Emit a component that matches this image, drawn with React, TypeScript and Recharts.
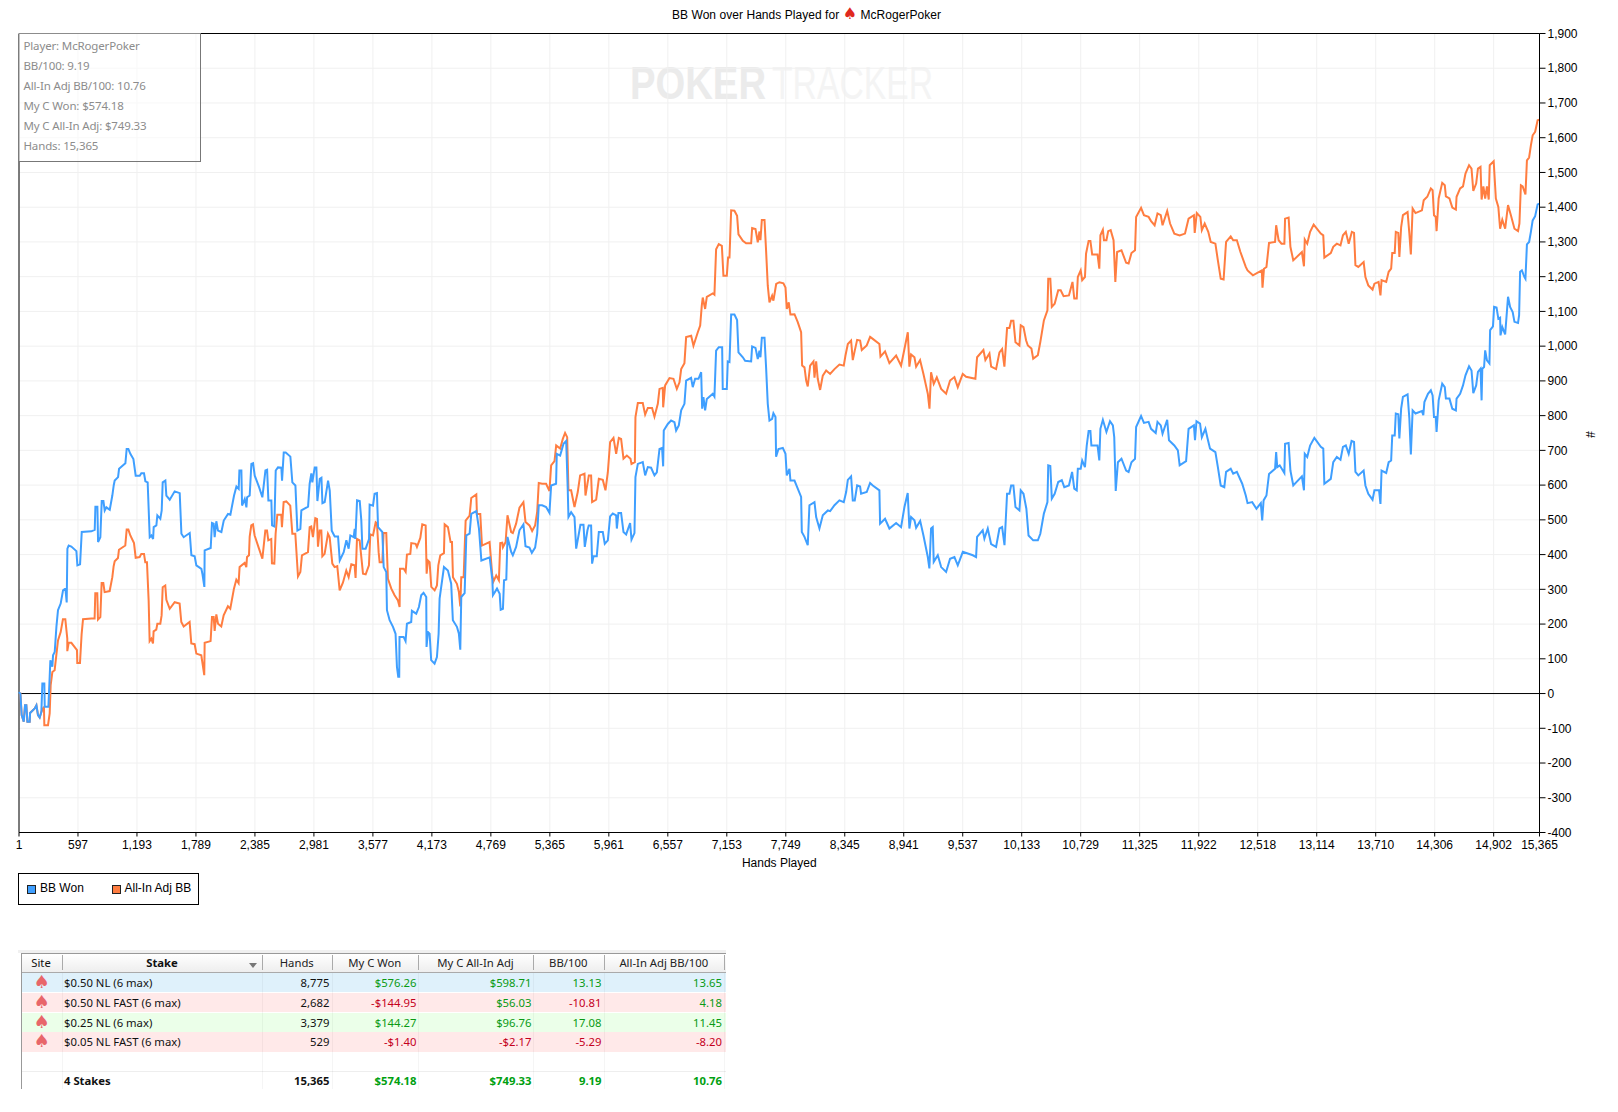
import React from 'react';
import { ComposedChart, Line, XAxis, YAxis, CartesianGrid, ReferenceLine, Legend } from 'recharts';

const xTicks = [1, 597, 1193, 1789, 2385, 2981, 3577, 4173, 4769, 5365, 5961, 6557, 7153, 7749, 8345, 8941, 9537, 10133, 10729, 11325, 11922, 12518, 13114, 13710, 14306, 14902, 15365];
const yTicks = [-400, -300, -200, -100, 0, 100, 200, 300, 400, 500, 600, 700, 800, 900, 1000, 1100, 1200, 1300, 1400, 1500, 1600, 1700, 1800, 1900];

const blueTrace: number[][] = [
[1,0],[5,2],[15,0],[28,-62],[49,-81],[62,-34],[75,-34],[86,-81],[109,-81],[113,-56],[160,-43],[177,-34],[193,-62],[210,-69],[227,-53],[237,29],[257,29],[261,-38],[298,-38],[311,48],[318,96],[338,77],[345,110],[362,120],[379,192],[395,240],[422,259],[446,297],[470,302],[483,262],[490,417],[503,426],[530,423],[581,410],[591,369],[618,372],[635,465],[732,467],[766,471],[773,538],[793,538],[800,436],[823,450],[837,554],[854,554],[867,527],[884,536],[918,529],[944,570],[958,599],[968,613],[1002,623],[1012,647],[1076,663],[1089,704],[1106,704],[1126,690],[1157,675],[1180,627],[1221,627],[1237,634],[1264,634],[1278,611],[1301,608],[1322,450],[1339,455],[1356,445],[1362,479],[1389,484],[1399,513],[1429,503],[1443,527],[1453,608],[1480,613],[1490,570],[1524,558],[1574,582],[1625,577],[1642,460],[1665,450],[1726,462],[1743,398],[1776,395],[1793,369],[1844,359],[1854,345],[1874,307],[1877,412],[1938,419],[1951,491],[1968,489],[1978,450],[1995,496],[2012,469],[2046,465],[2070,498],[2113,517],[2137,515],[2174,570],[2198,596],[2221,589],[2228,642],[2248,642],[2255,541],[2282,560],[2299,536],[2306,565],[2332,570],[2349,661],[2366,663],[2383,627],[2427,594],[2460,565],[2491,642],[2508,644],[2521,556],[2551,556],[2558,484],[2581,481],[2595,642],[2618,651],[2652,650],[2659,613],[2676,694],[2696,694],[2743,682],[2763,608],[2794,599],[2814,469],[2844,474],[2854,527],[2922,538],[2938,604],[2955,634],[2965,608],[2989,651],[3006,651],[3016,554],[3040,618],[3057,621],[3067,548],[3090,551],[3124,613],[3141,584],[3161,469],[3191,452],[3225,452],[3242,383],[3282,407],[3309,441],[3332,417],[3349,455],[3383,450],[3393,474],[3400,445],[3417,556],[3444,554],[3460,498],[3471,417],[3504,417],[3538,445],[3544,544],[3578,541],[3594,575],[3618,577],[3629,479],[3672,465],[3686,364],[3712,350],[3719,240],[3746,211],[3780,192],[3806,172],[3820,77],[3833,48],[3843,48],[3846,163],[3887,163],[3907,151],[3921,201],[3964,206],[3971,238],[4015,230],[4042,249],[4065,283],[4089,290],[4116,278],[4119,134],[4133,177],[4150,172],[4166,96],[4200,86],[4224,105],[4241,172],[4251,273],[4295,364],[4335,354],[4368,316],[4385,211],[4426,192],[4446,172],[4460,126],[4470,278],[4504,289],[4521,455],[4554,460],[4571,517],[4622,525],[4649,474],[4673,383],[4757,392],[4784,327],[4790,283],[4831,302],[4858,287],[4868,241],[4891,244],[4902,326],[4925,328],
[4937,451],[4974,408],[4991,398],[5024,422],[5058,470],[5098,487],[5119,424],[5159,420],[5183,405],[5216,420],[5237,460],[5253,542],[5287,542],[5327,537],[5361,520],[5378,599],[5428,604],[5435,690],[5469,685],[5503,719],[5530,727],[5546,585],[5553,508],[5580,522],[5614,508],[5631,417],[5658,460],[5674,486],[5705,486],[5718,422],[5745,470],[5758,484],[5782,484],[5792,374],[5806,395],[5839,395],[5860,465],[5900,465],[5920,431],[5951,441],[5974,510],[6001,518],[6035,513],[6042,475],[6058,520],[6085,520],[6109,465],[6136,458],[6176,491],[6190,443],[6220,462],[6230,623],[6254,661],[6304,666],[6328,628],[6355,652],[6388,650],[6422,628],[6446,637],[6473,704],[6499,707],[6510,654],[6516,757],[6557,776],[6590,786],[6624,781],[6641,757],[6668,772],[6692,815],[6725,834],[6742,901],[6792,909],[6809,882],[6833,906],[6867,906],[6894,925],[6904,820],[6917,853],[6934,815],[6951,848],[7011,863],[7028,855],[7045,987],[7072,997],[7106,997],[7112,877],[7153,877],[7163,956],[7180,954],[7197,1091],[7230,1091],[7257,1075],[7271,982],[7315,968],[7338,958],[7399,956],[7409,999],[7443,995],[7466,963],[7483,987],[7493,968],[7507,1024],[7534,1024],[7550,939],[7567,834],[7584,786],[7611,791],[7624,807],[7645,796],[7651,682],[7675,704],[7719,707],[7746,690],[7759,628],[7786,647],[7796,613],[7837,613],[7870,590],[7904,566],[7911,465],[7938,451],[7971,427],[7988,542],[8039,551],[8056,508],[8089,475],[8123,513],[8174,527],[8197,525],[8241,542],[8291,556],[8335,551],[8359,580],[8376,615],[8409,625],[8426,556],[8446,556],[8470,599],[8500,596],[8510,575],[8567,580],[8601,606],[8628,599],[8695,585],[8702,489],[8752,503],[8796,475],[8864,491],[8914,479],[8948,537],[8981,577],[8998,475],[9015,508],[9049,499],[9066,477],[9107,497],[9140,455],[9184,393],[9200,360],[9217,475],[9234,479],[9244,379],[9285,398],[9319,364],[9369,350],[9409,388],[9453,393],[9487,369],[9538,408],[9639,398],[9672,393],[9682,451],[9739,470],[9756,446],[9790,475],[9824,430],[9874,422],[9908,475],[9935,479],[9959,427],[9985,575],[10009,575],[10026,599],[10049,599],[10070,537],[10110,527],
[10123,585],[10151,575],[10180,532],[10202,455],[10249,441],[10296,441],[10321,460],[10357,518],[10393,551],[10401,657],[10422,655],[10437,561],[10466,575],[10502,609],[10538,614],[10563,594],[10610,599],[10642,638],[10664,590],[10689,585],[10700,647],[10729,647],[10744,671],[10772,652],[10790,714],[10809,756],[10827,756],[10837,714],[10899,714],[10917,671],[10928,762],[10953,788],[10989,753],[11025,784],[11054,772],[11068,738],[11083,583],[11105,666],[11141,676],[11188,642],[11213,638],[11242,666],[11278,676],[11289,767],[11339,799],[11368,779],[11415,782],[11440,762],[11487,750],[11505,782],[11538,772],[11556,748],[11603,788],[11621,729],[11675,714],[11711,700],[11729,657],[11794,669],[11819,762],[11873,772],[11884,729],[11899,784],[11935,777],[11953,738],[11989,762],[12011,734],[12036,705],[12090,695],[12115,652],[12144,599],[12180,594],[12198,638],[12245,647],[12270,633],[12307,638],[12361,604],[12397,570],[12415,548],[12462,551],[12505,532],[12549,548],[12563,498],[12577,556],[12606,570],[12632,632],[12693,647],[12704,695],[12715,652],[12740,657],[12787,635],[12794,719],[12830,721],[12848,642],[12877,599],[12964,625],[12985,585],[12993,690],[13018,681],[13047,714],[13090,736],[13155,710],[13180,705],[13191,604],[13256,618],[13281,666],[13317,681],[13354,673],[13379,710],[13408,714],[13437,690],[13466,727],[13491,724],[13505,638],[13534,628],[13588,642],[13606,599],[13635,575],[13678,558],[13697,585],[13744,585],[13758,546],[13769,642],[13816,635],[13841,666],[13866,671],[13877,743],[13902,743],[13913,806],[13938,804],[13949,734],[13967,820],[13985,854],[14032,861],[14050,791],[14065,688],[14083,815],[14112,806],[14177,813],[14191,801],[14202,839],[14238,863],[14267,873],[14285,858],[14299,796],[14317,796],[14325,753],[14346,844],[14382,892],[14408,882],[14419,849],[14455,849],[14484,820],[14520,815],[14527,849],[14563,863],[14592,887],[14617,916],[14653,942],[14678,930],[14696,865],[14725,887],[14743,926],[14769,935],[14780,844],[14787,935],[14805,940],[14816,988],[14834,959],[14859,950],[14866,1046],[14895,1057],[14906,1113],[14931,1111],[14949,1079],[14967,1082],[14971,1031],[14989,1055],[15018,1034],[15047,1142],[15068,1113],[15094,1098],[15112,1070],[15148,1067],[15159,1089],[15169,1214],[15187,1218],[15213,1199],[15223,1194],[15238,1293],[15260,1300],[15278,1329],[15296,1362],[15321,1374],[15346,1408],[15365,1410]
];

const orangeTrace: number[][] = [
[1,0],[15,0],[28,-62],[49,-81],[62,-34],[75,-34],[86,-81],[109,-81],[113,-56],[160,-43],[177,-34],[193,-62],[210,-69],[227,-53],[253,-38],[257,-91],[294,-91],[311,-57],[321,24],[338,62],[361,67],[378,110],[395,153],[422,177],[445,214],[469,214],[489,158],[489,122],[503,146],[530,146],[587,125],[590,88],[617,88],[634,172],[648,214],[732,216],[765,216],[772,289],[792,289],[799,213],[823,220],[836,318],[853,318],[866,292],[917,295],[944,335],[957,366],[968,381],[1001,390],[1011,414],[1075,426],[1089,472],[1106,472],[1126,455],[1163,433],[1180,391],[1220,393],[1237,402],[1264,402],[1277,378],[1294,378],[1311,268],[1321,151],[1338,158],[1355,144],[1361,179],[1388,184],[1399,201],[1429,201],[1442,225],[1453,306],[1479,311],[1490,270],[1524,244],[1574,263],[1624,259],[1641,206],[1665,193],[1725,206],[1742,144],[1776,142],[1793,115],[1843,110],[1853,91],[1873,53],[1877,146],[1937,151],[1951,220],[1968,220],[1978,180],[1995,228],[2012,201],[2045,193],[2069,225],[2112,251],[2136,244],[2173,302],[2197,328],[2220,318],[2230,364],[2281,376],[2298,364],[2305,393],[2325,398],[2332,452],[2348,484],[2365,487],[2382,455],[2426,417],[2460,388],[2490,469],[2507,469],[2520,441],[2550,445],[2557,375],[2581,374],[2594,460],[2611,515],[2651,515],[2658,479],[2675,551],[2702,553],[2742,541],[2763,460],[2793,460],[2820,337],[2844,350],[2860,398],[2921,407],[2938,479],[2954,481],[2971,450],[2995,505],[3012,503],[3022,423],[3039,469],[3056,469],[3066,395],[3089,402],[3123,460],[3140,450],[3167,374],[3190,364],[3217,367],[3241,297],[3274,319],[3308,354],[3332,335],[3359,372],[3392,369],[3402,333],[3416,445],[3443,441],[3477,345],[3504,343],[3537,369],[3551,458],[3578,455],[3605,493],[3618,490],[3635,407],[3645,378],[3672,378],[3685,462],[3712,462],[3729,330],[3763,302],[3796,283],[3830,268],[3847,249],[3851,359],[3888,359],[3908,350],[3921,400],[3955,402],[3965,433],[4009,431],[4022,422],[4056,448],[4076,487],[4110,484],[4120,345],[4133,383],[4150,378],[4167,307],[4201,297],[4224,311],[4238,369],[4258,398],[4295,404],[4302,487],[4335,479],[4362,436],[4376,436],[4386,335],[4426,316],[4446,292],[4460,251],[4470,335],[4494,335],[4514,498],[4554,512],[4571,563],[4622,573],[4628,517],[4662,517],[4679,426],[4756,436],[4783,340],[4796,323],[4823,340],[4850,326],[4864,433],[4884,434],[4891,421],[4918,436],
[4937,513],[4974,465],[4991,462],[5024,489],[5058,535],[5098,551],[5119,494],[5159,484],[5186,468],[5216,484],[5237,523],[5253,606],[5287,604],[5327,604],[5361,583],[5378,657],[5412,669],[5429,714],[5469,705],[5496,733],[5519,750],[5540,738],[5553,585],[5580,585],[5614,537],[5647,580],[5671,628],[5715,633],[5725,570],[5759,628],[5782,628],[5792,551],[5833,558],[5860,618],[5900,615],[5927,585],[5951,637],[5974,724],[6008,736],[6035,690],[6062,736],[6085,733],[6109,676],[6143,685],[6180,676],[6190,661],[6224,666],[6230,796],[6254,836],[6304,836],[6328,803],[6355,822],[6398,822],[6422,797],[6456,834],[6473,877],[6506,880],[6510,824],[6530,887],[6574,908],[6614,906],[6648,877],[6675,896],[6692,934],[6725,951],[6742,1026],[6793,1030],[6816,1001],[6860,1040],[6884,1059],[6900,1116],[6910,1140],[6934,1107],[6951,1142],[7011,1152],[7028,1148],[7045,1279],[7072,1294],[7103,1289],[7119,1203],[7153,1203],[7166,1255],[7180,1255],[7197,1391],[7230,1390],[7257,1375],[7271,1322],[7315,1303],[7348,1296],[7399,1296],[7409,1340],[7443,1337],[7466,1299],[7483,1330],[7493,1305],[7507,1363],[7534,1363],[7550,1275],[7567,1174],[7584,1126],[7611,1145],[7624,1131],[7652,1179],[7685,1184],[7725,1181],[7746,1169],[7759,1107],[7779,1126],[7796,1091],[7837,1092],[7870,1069],[7904,1040],[7914,944],[7938,939],[7955,901],[7971,884],[7995,944],[8029,956],[8039,909],[8056,956],[8072,906],[8096,874],[8123,915],[8157,930],[8197,920],[8241,934],[8291,947],[8335,944],[8352,973],[8376,1006],[8409,1016],[8426,960],[8446,987],[8470,1018],[8500,1016],[8517,989],[8567,1002],[8601,1027],[8628,1021],[8695,1006],[8706,970],[8752,985],[8796,951],[8864,973],[8914,944],[8948,992],[8982,1040],[8998,941],[9015,976],[9049,968],[9066,941],[9106,960],[9140,920],[9184,863],[9201,820],[9217,925],[9244,891],[9275,910],[9319,877],[9369,863],[9409,901],[9453,911],[9487,882],[9537,920],[9571,912],[9665,906],[9682,968],[9746,989],[9766,960],[9807,979],[9824,941],[9874,934],[9908,982],[9935,992],[9958,941],[9985,1052],[10009,1052],[10026,1073],[10049,1073],[10070,1011],[10110,1002],
[10123,1060],[10151,1055],[10177,1017],[10195,1002],[10231,993],[10249,964],[10296,974],[10321,1012],[10357,1074],[10393,1103],[10401,1194],[10422,1194],[10437,1113],[10466,1122],[10502,1161],[10527,1161],[10556,1144],[10610,1146],[10646,1185],[10664,1137],[10689,1137],[10700,1199],[10729,1218],[10744,1190],[10772,1199],[10783,1266],[10809,1303],[10827,1303],[10845,1264],[10899,1264],[10917,1223],[10928,1319],[10953,1335],[10964,1305],[10989,1305],[11007,1331],[11032,1334],[11061,1305],[11079,1185],[11097,1271],[11141,1276],[11188,1240],[11213,1238],[11242,1268],[11278,1276],[11289,1372],[11339,1398],[11368,1377],[11415,1372],[11440,1360],[11476,1348],[11505,1382],[11538,1377],[11556,1348],[11603,1389],[11632,1353],[11675,1324],[11729,1319],[11783,1324],[11819,1367],[11873,1377],[11881,1326],[11902,1383],[11938,1372],[11953,1334],[11982,1353],[12018,1329],[12043,1300],[12090,1295],[12115,1247],[12144,1194],[12173,1192],[12198,1300],[12245,1316],[12270,1305],[12307,1305],[12343,1271],[12397,1228],[12415,1218],[12469,1204],[12559,1218],[12566,1168],[12581,1223],[12606,1228],[12632,1297],[12693,1300],[12704,1348],[12729,1305],[12758,1295],[12787,1295],[12794,1367],[12830,1370],[12848,1286],[12877,1247],[12964,1271],[12985,1230],[12993,1307],[13018,1295],[13047,1329],[13083,1350],[13155,1324],[13180,1319],[13191,1255],[13256,1268],[13281,1286],[13317,1295],[13354,1290],[13379,1319],[13408,1329],[13437,1295],[13469,1329],[13491,1326],[13505,1233],[13534,1228],[13588,1242],[13606,1199],[13635,1175],[13678,1163],[13697,1180],[13739,1185],[13758,1146],[13769,1190],[13816,1185],[13841,1214],[13866,1223],[13877,1268],[13902,1268],[13913,1329],[13938,1326],[13949,1257],[13967,1343],[13985,1377],[14032,1386],[14050,1324],[14065,1264],[14083,1396],[14112,1383],[14177,1391],[14195,1420],[14231,1430],[14267,1454],[14285,1449],[14299,1377],[14317,1372],[14325,1331],[14346,1425],[14382,1470],[14408,1463],[14419,1431],[14455,1425],[14484,1399],[14520,1393],[14527,1430],[14563,1454],[14592,1460],[14617,1497],[14653,1521],[14678,1511],[14696,1447],[14725,1468],[14743,1511],[14769,1516],[14780,1422],[14798,1460],[14816,1425],[14834,1460],[14852,1422],[14862,1521],[14902,1532],[14924,1425],[14949,1401],[14967,1338],[14989,1364],[15018,1338],[15047,1406],[15076,1377],[15112,1338],[15148,1331],[15162,1353],[15177,1463],[15195,1460],[15223,1437],[15238,1535],[15260,1543],[15278,1578],[15296,1607],[15321,1617],[15346,1650],[15365,1652]
];

const statLines = ['Player: McRogerPoker', 'BB/100: 9.19', 'All-In Adj BB/100: 10.76', 'My C Won: $574.18', 'My C All-In Adj: $749.33', 'Hands: 15,365'];
const tableHead = ['Hands', 'My C Won', 'My C All-In Adj', 'BB/100', 'All-In Adj BB/100'];
const stakes = ['$0.50 NL (6 max)', '$0.50 NL FAST (6 max)', '$0.25 NL (6 max)', '$0.05 NL FAST (6 max)'];
const handsCol = ['8,775', '2,682', '3,379', '529'];
const wonCol = ['$576.26', '-$144.95', '$144.27', '-$1.40'];
const adjCol = ['$598.71', '$56.03', '$96.76', '-$2.17'];
const bbCol = ['13.13', '-10.81', '17.08', '-5.29'];
const adjBbCol = ['13.65', '4.18', '11.45', '-8.20'];
const totals = ['15,365', '$574.18', '$749.33', '9.19', '10.76'];
const rowColors = ['#dff1fb', '#ffe9e9', '#ebffe9', '#ffe9e9'];

const BLUE = '#3f9fff';
const ORANGE = '#ff7d40';
const toRows = (t: number[][]) => t.map(([hand, bb]) => ({ hand, bb }));
const AXIS_FONT = '"Liberation Sans", Arial, sans-serif';
const UI_FONT = '"Noto Sans", sans-serif';

const colRight = [329.5, 416.5, 531.5, 601.5, 722];
const colSep = [61.5, 262, 331.5, 418, 533, 603.5, 724];
const colStart = [262, 331.5, 418, 533, 603.5];
const rowTops = [972.5, 992.5, 1012.5, 1032];

const cellColor = (s: string) => (s.startsWith('-') ? '#c4001c' : '#0a9a14');

const abs = (left: number, top: number, width: number, height: number): React.CSSProperties => ({ position: 'absolute', left, top, width, height });

function Table() {
  const txt: React.CSSProperties = { fontFamily: UI_FONT, fontSize: 11.3, whiteSpace: 'nowrap', position: 'absolute', lineHeight: '20px' };
  const rowCols = [handsCol, wonCol, adjCol, bbCol, adjBbCol];
  return (
    <div>
      <div style={{ ...abs(18, 950, 708, 3), background: '#f0f0f0' }} />
      <div style={{ ...abs(21, 953, 705, 20), background: 'linear-gradient(#ffffff,#eeeeee)', borderTop: '1px solid #999', borderBottom: '1px solid #aaa', boxSizing: 'border-box' }} />
      <div style={{ ...abs(21, 953, 1, 136), background: '#999' }} />
      {colSep.map((x) => <div key={x} style={{ ...abs(x, 955, 1, 15), background: '#aaa' }} />)}
      <div style={{ ...txt, left: 21, width: 40, top: 953, textAlign: 'center', color: '#111' }}>Site</div>
      <div style={{ ...txt, left: 62, width: 200, top: 953, textAlign: 'center', fontWeight: 700, color: '#111' }}>Stake</div>
      <div style={{ ...abs(249, 963, 0, 0), borderLeft: '4px solid transparent', borderRight: '4px solid transparent', borderTop: '5px solid #777' }} />
      {tableHead.map((h, i) => <div key={h} style={{ ...txt, left: colStart[i], width: colSep[i + 2] - colStart[i], top: 953, textAlign: 'center', color: '#222' }}>{h}</div>)}
      {stakes.map((s, r) => (
        <div key={s}>
          <div style={{ ...abs(22, rowTops[r], 704, 19.5), background: rowColors[r] }} />
          <div style={{ ...txt, left: 22, width: 39, top: rowTops[r] + 1, lineHeight: '15px', fontFamily: '"DejaVu Sans", sans-serif', textAlign: 'center', color: '#e8666a', fontSize: 18 }}>♠</div>
          <div style={{ ...txt, left: 64, top: rowTops[r], color: '#111' }}>{s}</div>
          {rowCols.map((c, i) => (
            <div key={i} style={{ ...txt, right: 1618 - colRight[i], top: rowTops[r], color: i === 0 ? '#111' : cellColor(c[r]) }}>{c[r]}</div>
          ))}
        </div>
      ))}
      <div style={{ ...abs(22, 1071, 704, 1), background: '#eee' }} />
      <div style={{ ...txt, left: 64, top: 1071, fontWeight: 700, color: '#111' }}>4 Stakes</div>
      {totals.map((t, i) => (
        <div key={t} style={{ ...txt, right: 1618 - colRight[i], top: 1071, fontWeight: 700, color: i === 0 ? '#111' : '#00a010' }}>{t}</div>
      ))}
      {colSep.map((x) => <div key={x} style={{ ...abs(x, 973, 1, 116), background: 'rgba(0,0,0,0.04)' }} />)}
    </div>
  );
}

function LegendBox() {
  const item = (x: number, color: string, label: string) => (
    <React.Fragment key={label}>
      <span style={{ position: 'absolute', left: x, top: 11, width: 7, height: 7, background: color, border: '1px solid #222' }} />
      <span style={{ position: 'absolute', left: x + 13, top: 7, fontFamily: AXIS_FONT, fontSize: 12, lineHeight: '15px', color: '#000', whiteSpace: 'nowrap' }}>{label}</span>
    </React.Fragment>
  );
  return (
    <div style={{ position: 'relative', width: 179, height: 30, border: '1px solid #000', boxSizing: 'content-box', background: '#fff' }}>
      {item(8, BLUE, 'BB Won')}
      {item(92.5, ORANGE, 'All-In Adj BB')}
    </div>
  );
}

export default function App() {
  return (
    <div style={{ position: 'absolute', left: 0, top: 0, width: 1618, height: 1112, background: '#fff', overflow: 'hidden' }}>
      <svg style={{ position: 'absolute', left: 0, top: 0 }} width={1618} height={120}>
        <text x={630} y={99} fontFamily={AXIS_FONT} fontWeight={700} fontSize={47} fill="#ebebeb" textLength={136} lengthAdjust="spacingAndGlyphs">POKER</text>
        <text x={772} y={99} fontFamily={AXIS_FONT} fontSize={47} fill="#f4f4f4" textLength={161} lengthAdjust="spacingAndGlyphs">TRACKER</text>
      </svg>
      <div style={{ position: 'absolute', left: 672, top: 8, fontFamily: AXIS_FONT, fontSize: 12, letterSpacing: 0.05, lineHeight: '15px', whiteSpace: 'nowrap', color: '#000' }}>
        BB Won over Hands Played for <span style={{ color: '#e0281e', fontFamily: '"DejaVu Sans", sans-serif', fontSize: 16, lineHeight: '12px' }}>♠</span> McRogerPoker
      </div>
      <div style={{ position: 'absolute', left: 0, top: 0 }}>
        <ComposedChart width={1618} height={910} margin={{ top: 33.5, right: 0, bottom: 47.5, left: 19 }} style={{ background: 'transparent' }}>
          <CartesianGrid stroke="#f0f0f0" strokeWidth={1} horizontalValues={yTicks} verticalValues={xTicks} />
          <XAxis
            dataKey="hand"
            type="number"
            domain={[1, 15365]}
            ticks={xTicks}
            interval={0}
            height={30}
            allowDuplicatedCategory={false}
            stroke="#000"
            tickSize={4}
            tickMargin={4}
            tickFormatter={(v: number) => v.toLocaleString('en-US')}
            tick={{ fontFamily: AXIS_FONT, fontSize: 12, fill: '#000' }}
            label={{ value: 'Hands Played', position: 'insideBottom', offset: -4, fontFamily: AXIS_FONT, fontSize: 12, fill: '#000' }}
          />
          <YAxis
            orientation="right"
            type="number"
            domain={[-400, 1900]}
            ticks={yTicks}
            interval={0}
            width={78.5}
            stroke="#000"
            tickSize={6}
            tickFormatter={(v: number) => v.toLocaleString('en-US')}
            tick={{ fontFamily: AXIS_FONT, fontSize: 12, fill: '#000' }}
            label={{ value: '#', angle: 90, position: 'insideRight', offset: 28, dy: 5, fontFamily: AXIS_FONT, fontSize: 12, fill: '#000' }}
          />
          <ReferenceLine y={1900} stroke="#000" />
          <ReferenceLine x={1} stroke="#000" />
          <ReferenceLine y={0} stroke="#000" />
          <Line data={toRows(orangeTrace)} dataKey="bb" name="All-In Adj BB" type="linear" stroke={ORANGE} strokeWidth={2} dot={false} isAnimationActive={false} />
          <Line data={toRows(blueTrace)} dataKey="bb" name="BB Won" type="linear" stroke={BLUE} strokeWidth={2} dot={false} isAnimationActive={false} />
          <Legend layout="horizontal" align="center" verticalAlign="middle" wrapperStyle={{ left: 18, top: 873, width: 181, height: 32 }} content={() => <LegendBox />} />
        </ComposedChart>
      </div>
      <div style={{ ...abs(19, 33, 182, 129), border: '1px solid #777', borderTop: 'none', borderLeft: 'none', background: 'rgba(255,255,255,0.55)', boxSizing: 'border-box' }}>
        {statLines.map((s, i) => (
          <div key={s} style={{ position: 'absolute', left: 4.5, top: 2.5 + i * 20, lineHeight: '20px', fontFamily: UI_FONT, fontSize: 11.5, letterSpacing: -0.15, color: '#8c8c8c', whiteSpace: 'nowrap' }}>{s}</div>
        ))}
      </div>
      <Table />
    </div>
  );
}
